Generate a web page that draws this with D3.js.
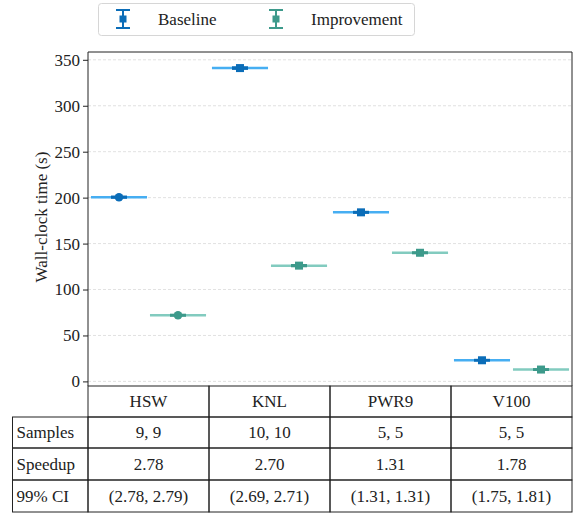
<!DOCTYPE html>
<html>
<head>
<meta charset="utf-8">
<script src="https://cdn.jsdelivr.net/npm/d3@7"></script>
</head>
<body style="margin:0">
<div id="chart"></div>
<script>
// chart data
var categories = ["HSW", "KNL", "PWR9", "V100"];
var series = ["Baseline", "Improvement"];
var baseline = [200.5, 341, 184, 23];
var baselineErr = [0.6, 0.8, 0.5, 0.4];
var improvement = [72, 126, 140, 12.9];
var improvementErr = [0.5, 0.6, 0.5, 0.4];
var markers = ["circle", "square", "square", "square"];
var yTicks = [0, 50, 100, 150, 200, 250, 300, 350];

var rowLabels = ["Samples", "Speedup", "99% CI"];
var samples = ["9, 9", "10, 10", "5, 5", "5, 5"];
var speedup = ["2.78", "2.70", "1.31", "1.78"];
var ci = ["(2.78, 2.79)", "(2.69, 2.71)", "(1.31, 1.31)", "(1.75, 1.81)"];

var svgWidth = 581, svgHeight = 514;
var margin = { top: 52, left: 88, right: 9, bottom: 128 };
var plotRight = svgWidth - margin.right;
var plotBottom = svgHeight - margin.bottom;
var textColor = "#222";

var darkColor = { Baseline: "#0b6db8", Improvement: "#3d9a8b" };
var lightColor = { Baseline: "#46aef2", Improvement: "#82cbbf" };

// every text gets the serif font set on itself
function serif(sel) {
  return sel.attr("font-family", "Liberation Serif")
    .attr("font-size", 17)
    .attr("fill", textColor);
}

var svg = d3.select("#chart").append("svg")
  .attr("width", svgWidth)
  .attr("height", svgHeight);

// scales
var x = d3.scaleBand().domain(categories).range([margin.left, plotRight]).padding(0);
var xSub = d3.scaleBand().domain(series).range([0, x.bandwidth()]).padding(0.05);
var y = d3.scaleLinear().domain([-5, 358.5]).range([plotBottom, margin.top]);

// gridlines
svg.append("g")
  .selectAll("line")
  .data(yTicks)
  .enter()
  .append("line")
  .attr("x1", margin.left).attr("x2", plotRight)
  .attr("y1", d => y(d)).attr("y2", d => y(d))
  .attr("stroke", "#d9d9d9")
  .attr("stroke-width", 0.8)
  .attr("stroke-dasharray", "3,2");

// y axis
var leftAxis = d3.axisLeft(y).tickValues(yTicks).tickSize(5).tickPadding(3);
var yAxisG = svg.append("g")
  .attr("transform", `translate(${margin.left},0)`)
  .call(leftAxis);
yAxisG.select(".domain").remove();
yAxisG.selectAll("line").attr("stroke", textColor);
yAxisG.selectAll("text").call(serif);

// frame
svg.append("path")
  .attr("d", `M${margin.left},${plotBottom}V${margin.top}H${plotRight}V${plotBottom}`)
  .attr("fill", "none")
  .attr("stroke", textColor)
  .attr("stroke-width", 1);

// y label
svg.append("text")
  .attr("transform", `translate(47, ${(margin.top + plotBottom) / 2 - 2}) rotate(-90)`)
  .attr("text-anchor", "middle")
  .call(serif)
  .text("Wall-clock time (s)");

// points
var points = [];
categories.forEach(function(c, i) {
  points.push({ cat: c, s: "Baseline", v: baseline[i], e: baselineErr[i], m: markers[i] });
  points.push({ cat: c, s: "Improvement", v: improvement[i], e: improvementErr[i], m: markers[i] });
});

var pts = svg.append("g").selectAll("g")
  .data(points)
  .enter()
  .append("g");

// wide light line for each mean
pts.append("line")
  .attr("x1", d => x(d.cat) + xSub(d.s))
  .attr("x2", d => x(d.cat) + xSub(d.s) + xSub.bandwidth())
  .attr("y1", d => y(d.v)).attr("y2", d => y(d.v))
  .attr("stroke", d => lightColor[d.s])
  .attr("stroke-width", 2.5);

function cx(d) { return x(d.cat) + xSub(d.s) + xSub.bandwidth() / 2; }

// error bars with caps
pts.append("line")
  .attr("x1", cx).attr("x2", cx)
  .attr("y1", d => y(d.v - d.e)).attr("y2", d => y(d.v + d.e))
  .attr("stroke", d => darkColor[d.s])
  .attr("stroke-width", 2);
[-1, 1].forEach(function(sign) {
  pts.append("line")
    .attr("x1", d => cx(d) - 8).attr("x2", d => cx(d) + 8)
    .attr("y1", d => y(d.v + sign * d.e)).attr("y2", d => y(d.v + sign * d.e))
    .attr("stroke", d => darkColor[d.s])
    .attr("stroke-width", 2.2);
});

// markers
pts.filter(d => d.m === "circle").append("circle")
  .attr("cx", cx).attr("cy", d => y(d.v))
  .attr("r", 4.3)
  .attr("fill", d => darkColor[d.s]);
pts.filter(d => d.m === "square").append("rect")
  .attr("x", d => cx(d) - 4).attr("y", d => y(d.v) - 4)
  .attr("width", 8).attr("height", 8)
  .attr("fill", d => darkColor[d.s]);

// legend
var legend = svg.append("g");
legend.append("rect")
  .attr("x", 98.5).attr("y", 3.5)
  .attr("width", 316).attr("height", 32)
  .attr("rx", 3)
  .attr("fill", "#fff")
  .attr("stroke", "#d6d6d6");
var legendX = [123, 276];
series.forEach(function(s, i) {
  var g = legend.append("g").attr("transform", `translate(${legendX[i]}, 19)`);
  g.append("line").attr("x1", 0).attr("x2", 0).attr("y1", -9).attr("y2", 9)
    .attr("stroke", darkColor[s]).attr("stroke-width", 2);
  [-9, 9].forEach(function(yy) {
    g.append("line").attr("x1", -7).attr("x2", 7).attr("y1", yy).attr("y2", yy)
      .attr("stroke", darkColor[s]).attr("stroke-width", 2);
  });
  g.append("rect").attr("x", -3.5).attr("y", -3.5).attr("width", 7).attr("height", 7)
    .attr("fill", darkColor[s]);
  g.append("text")
    .attr("x", 35).attr("y", 0).attr("dy", "0.35em")
    .call(serif)
    .text(s);
});

// table under the plot
var tableLeft = 12.5;
var rowEdges = [plotBottom, 417, 448, 480, 512];
var rows = [samples, speedup, ci];
var tbl = svg.append("g");

// header cells
categories.forEach(function(c) {
  tbl.append("rect")
    .attr("x", x(c)).attr("y", rowEdges[0])
    .attr("width", x.bandwidth()).attr("height", rowEdges[1] - rowEdges[0])
    .attr("fill", "none").attr("stroke", textColor);
  tbl.append("text")
    .attr("x", x(c) + x.bandwidth() / 2)
    .attr("y", (rowEdges[0] + rowEdges[1]) / 2).attr("dy", "0.35em")
    .attr("text-anchor", "middle")
    .call(serif)
    .text(c);
});

rows.forEach(function(vals, r) {
  var y0 = rowEdges[r + 1], y1 = rowEdges[r + 2];
  tbl.append("rect")
    .attr("x", tableLeft).attr("y", y0)
    .attr("width", margin.left - tableLeft).attr("height", y1 - y0)
    .attr("fill", "none").attr("stroke", textColor);
  tbl.append("text")
    .attr("x", tableLeft + 4).attr("y", (y0 + y1) / 2).attr("dy", "0.35em")
    .call(serif)
    .text(rowLabels[r]);
  categories.forEach(function(c, i) {
    tbl.append("rect")
      .attr("x", x(c)).attr("y", y0)
      .attr("width", x.bandwidth()).attr("height", y1 - y0)
      .attr("fill", "none").attr("stroke", textColor);
    tbl.append("text")
      .attr("x", x(c) + x.bandwidth() / 2)
      .attr("y", (y0 + y1) / 2).attr("dy", "0.35em")
      .attr("text-anchor", "middle")
      .call(serif)
      .text(vals[i]);
  });
});
</script>
</body>
</html>
